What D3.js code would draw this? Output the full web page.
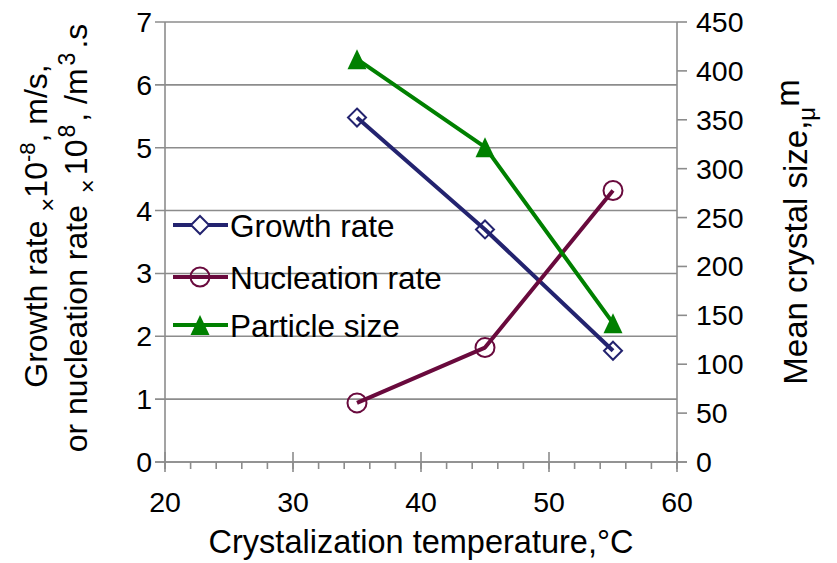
<!DOCTYPE html>
<html>
<head>
<meta charset="utf-8">
<script src="https://cdn.jsdelivr.net/npm/d3@7"></script>
<style>
  html, body { margin: 0; padding: 0; background: #fff; }
  svg { display: block; font-family: "Liberation Sans", Arial, sans-serif; }
</style>
</head>
<body>
<svg id="chart" width="837" height="563"></svg>
<script>
// Crystallization temperature (°C)
const temperatures = [35, 45, 55];
// Growth rate ×10^-8 m/s (left axis)
const growthRate = [5.48, 3.70, 1.77];
// Nucleation rate ×10^8 /m3.s (left axis)
const nucleationRate = [0.94, 1.82, 4.32];
// Mean crystal size, µm (right axis)
const particleSize = [412, 322, 142];

const xTicks = [20, 30, 40, 50, 60];
const xMinorTicks = d3.range(20, 61, 2);
const leftTicks = [0, 1, 2, 3, 4, 5, 6, 7];
const rightTicks = [0, 50, 100, 150, 200, 250, 300, 350, 400, 450];
const seriesNames = ["Growth rate", "Nucleation rate", "Particle size"];

const svg = d3.select("#chart");
const plotL = 165, plotR = 677, plotT = 22, plotB = 462;

const x = d3.scaleLinear().domain([20, 60]).range([plotL, plotR]);
const yL = d3.scaleLinear().domain([0, 7]).range([plotB, plotT]);
const yR = d3.scaleLinear().domain([0, 450]).range([plotB, plotT]);

const gridColor = "#8c8c8c";
const tickFont = 28.5;

// horizontal gridlines + left ticks
svg.append("g").selectAll("line").data(leftTicks).join("line")
  .attr("x1", plotL - 10).attr("x2", plotR)
  .attr("y1", d => yL(d)).attr("y2", d => yL(d))
  .attr("stroke", gridColor).attr("stroke-width", 1.6);

// left and right axis lines
svg.append("line").attr("x1", plotL).attr("x2", plotL).attr("y1", plotT).attr("y2", plotB)
  .attr("stroke", gridColor).attr("stroke-width", 1.6);
svg.append("line").attr("x1", plotR).attr("x2", plotR).attr("y1", plotT).attr("y2", plotB)
  .attr("stroke", gridColor).attr("stroke-width", 1.6);

// right ticks
svg.append("g").selectAll("line").data(rightTicks).join("line")
  .attr("x1", plotR).attr("x2", plotR + 10)
  .attr("y1", d => yR(d)).attr("y2", d => yR(d))
  .attr("stroke", gridColor).attr("stroke-width", 1.6);

// x axis line, major & minor ticks
svg.append("line").attr("x1", plotL - 10).attr("x2", plotR + 10)
  .attr("y1", plotB).attr("y2", plotB).attr("stroke", gridColor).attr("stroke-width", 1.6);
svg.append("g").selectAll("line").data(xMinorTicks).join("line")
  .attr("x1", d => x(d)).attr("x2", d => x(d))
  .attr("y1", plotB).attr("y2", plotB + 7)
  .attr("stroke", gridColor).attr("stroke-width", 1.6);
svg.append("g").selectAll("line").data(xTicks).join("line")
  .attr("x1", d => x(d)).attr("x2", d => x(d))
  .attr("y1", plotB - 10).attr("y2", plotB + 10)
  .attr("stroke", gridColor).attr("stroke-width", 1.6);

// tick labels
svg.append("g").selectAll("text").data(leftTicks).join("text")
  .attr("x", plotL - 13).attr("y", d => yL(d) + 10)
  .attr("text-anchor", "end").attr("font-size", tickFont).text(d => d);
svg.append("g").selectAll("text").data(rightTicks).join("text")
  .attr("x", plotR + 19).attr("y", d => yR(d) + 10)
  .attr("text-anchor", "start").attr("font-size", tickFont).text(d => d);
svg.append("g").selectAll("text").data(xTicks).join("text")
  .attr("x", d => x(d)).attr("y", plotB + 50)
  .attr("text-anchor", "middle").attr("font-size", tickFont).text(d => d);

// axis titles
svg.append("text").attr("x", 421).attr("y", 553)
  .attr("text-anchor", "middle").attr("font-size", 32.5)
  .text("Crystalization temperature,°C");

const lt1 = svg.append("text").attr("transform", "translate(47,226) rotate(-90)")
  .attr("text-anchor", "middle").attr("font-size", 32);
lt1.append("tspan").text("Growth rate ");
lt1.append("tspan").attr("font-size", 24).attr("dy", 9).text("×");
lt1.append("tspan").attr("dy", -9).text("10");
lt1.append("tspan").attr("font-size", 22).attr("dy", -12).text("-8");
lt1.append("tspan").attr("dy", 12).text(", m/s,");

const lt2 = svg.append("text").attr("transform", "translate(87,238) rotate(-90)")
  .attr("text-anchor", "middle").attr("font-size", 32);
lt2.append("tspan").text("or nucleation rate ");
lt2.append("tspan").attr("font-size", 24).attr("dy", 9).attr("dx", 3).text("×");
lt2.append("tspan").attr("dy", -9).attr("dx", 4).text("10");
lt2.append("tspan").attr("font-size", 23).attr("dy", -12).attr("dx", 2).text("8");
lt2.append("tspan").attr("dy", 12).attr("dx", 3).text(", /m");
lt2.append("tspan").attr("font-size", 23).attr("dy", -12).attr("dx", 3).text("3");
lt2.append("tspan").attr("dy", 12).attr("dx", 4).text(".s");

const rt = svg.append("text").attr("transform", "translate(807,232) rotate(-90)")
  .attr("text-anchor", "middle").attr("font-size", 33);
rt.append("tspan").text("Mean crystal size,");
rt.append("tspan").attr("font-size", 24).attr("dy", 8).text("μ");
rt.append("tspan").attr("dy", -16).text("m");

// series
const colors = ["#23236f", "#690a3d", "#008000"];
const seriesData = [
  temperatures.map((t, i) => [x(t), yL(growthRate[i])]),
  temperatures.map((t, i) => [x(t), yL(nucleationRate[i])]),
  temperatures.map((t, i) => [x(t), yR(particleSize[i])])
];
const line = d3.line();

function drawMarker(g, kind, cx, cy, color, legend) {
  if (kind === 0) {
    g.append("path")
      .attr("d", `M${cx},${cy - 9}L${cx + 9},${cy}L${cx},${cy + 9}L${cx - 9},${cy}Z`)
      .attr("fill", legend ? "#fff" : "none").attr("stroke", color).attr("stroke-width", 2);
  } else if (kind === 1) {
    g.append("circle").attr("cx", cx).attr("cy", cy).attr("r", 9.5)
      .attr("fill", "none").attr("stroke", color).attr("stroke-width", 2);
  } else {
    g.append("path")
      .attr("d", `M${cx},${cy - 10}L${cx + 9.5},${cy + 10}L${cx - 9.5},${cy + 10}Z`)
      .attr("fill", color);
  }
}

seriesData.forEach((pts, k) => {
  const g = svg.append("g");
  g.append("path").attr("d", line(pts)).attr("fill", "none")
    .attr("stroke", colors[k]).attr("stroke-width", 4).attr("stroke-linejoin", "round");
  pts.forEach(p => drawMarker(g, k, p[0], p[1], colors[k], false));
});

// legend
const legendY = [225, 277, 325];
seriesNames.forEach((name, k) => {
  const g = svg.append("g");
  const ly = legendY[k];
  g.append("line").attr("x1", 173).attr("x2", 228).attr("y1", ly).attr("y2", ly)
    .attr("stroke", colors[k]).attr("stroke-width", 4);
  drawMarker(g, k, 200, ly, colors[k], true);
  g.append("text").attr("x", 230).attr("y", ly + 12).attr("font-size", 31.5).text(name);
});
</script>
</body>
</html>
